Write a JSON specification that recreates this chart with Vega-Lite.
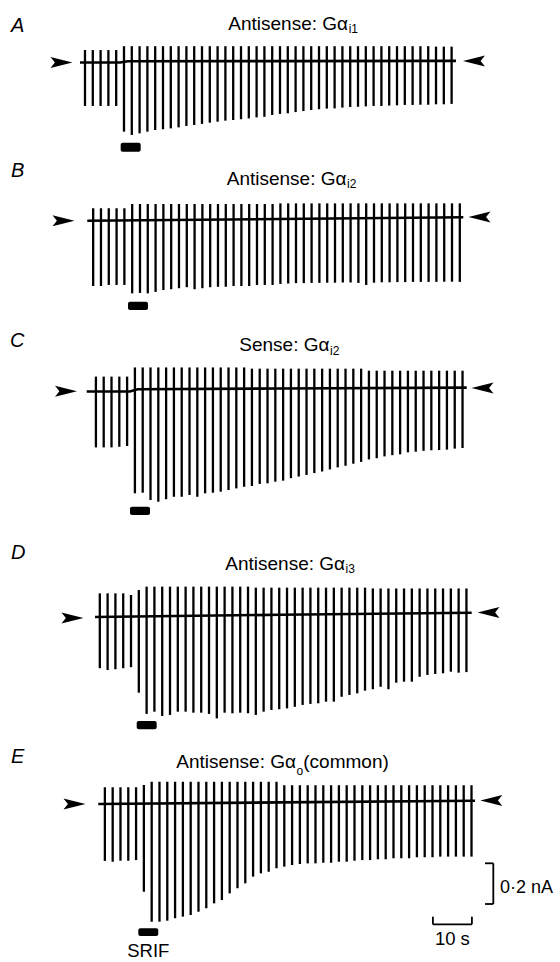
{
"$schema":"https://vega.github.io/schema/vega-lite/v6.json",
"padding":0,"spacing":0,"bounds":"flush","background":"white",
"config":{"view":{"stroke":null}},
"resolve":{"scale":{"x":"shared","y":"independent"}},
"datasets":{
"pulses":[
{"p":"A","t":0,"i":0.061,"i2":-0.213},{"p":"A","t":2,"i":0.061,"i2":-0.213},{"p":"A","t":4,"i":0.061,"i2":-0.213},{"p":"A","t":6,"i":0.061,"i2":-0.213},{"p":"A","t":8,"i":0.061,"i2":-0.213},
{"p":"A","t":10,"i":0.08,"i2":-0.339},{"p":"A","t":12,"i":0.08,"i2":-0.355},{"p":"A","t":14,"i":0.08,"i2":-0.347},{"p":"A","t":16,"i":0.08,"i2":-0.339},{"p":"A","t":18,"i":0.08,"i2":-0.331},
{"p":"A","t":20,"i":0.08,"i2":-0.327},{"p":"A","t":22,"i":0.08,"i2":-0.323},{"p":"A","t":24,"i":0.08,"i2":-0.318},{"p":"A","t":26,"i":0.08,"i2":-0.311},{"p":"A","t":28,"i":0.08,"i2":-0.306},
{"p":"A","t":30,"i":0.08,"i2":-0.301},{"p":"A","t":32,"i":0.08,"i2":-0.295},{"p":"A","t":34,"i":0.08,"i2":-0.29},{"p":"A","t":36,"i":0.08,"i2":-0.285},{"p":"A","t":38,"i":0.08,"i2":-0.282},
{"p":"A","t":40,"i":0.08,"i2":-0.278},{"p":"A","t":42,"i":0.08,"i2":-0.274},{"p":"A","t":44,"i":0.08,"i2":-0.269},{"p":"A","t":46,"i":0.08,"i2":-0.266},{"p":"A","t":48,"i":0.08,"i2":-0.257},
{"p":"A","t":50,"i":0.08,"i2":-0.252},{"p":"A","t":52,"i":0.08,"i2":-0.249},{"p":"A","t":54,"i":0.08,"i2":-0.243},{"p":"A","t":56,"i":0.08,"i2":-0.238},{"p":"A","t":58,"i":0.08,"i2":-0.233},
{"p":"A","t":60,"i":0.08,"i2":-0.229},{"p":"A","t":62,"i":0.08,"i2":-0.226},{"p":"A","t":64,"i":0.08,"i2":-0.225},{"p":"A","t":66,"i":0.08,"i2":-0.221},{"p":"A","t":68,"i":0.08,"i2":-0.218},
{"p":"A","t":70,"i":0.08,"i2":-0.217},{"p":"A","t":72,"i":0.08,"i2":-0.215},{"p":"A","t":74,"i":0.08,"i2":-0.213},{"p":"A","t":76,"i":0.08,"i2":-0.213},{"p":"A","t":78,"i":0.08,"i2":-0.211},
{"p":"A","t":80,"i":0.08,"i2":-0.21},{"p":"A","t":82,"i":0.08,"i2":-0.208},{"p":"A","t":84,"i":0.08,"i2":-0.208},{"p":"A","t":86,"i":0.08,"i2":-0.207},{"p":"A","t":88,"i":0.08,"i2":-0.207},
{"p":"A","t":90,"i":0.078,"i2":-0.205},{"p":"A","t":92,"i":0.078,"i2":-0.205},{"p":"A","t":94,"i":0.078,"i2":-0.203},
{"p":"B","t":2.1,"i":0.061,"i2":-0.32},{"p":"B","t":4.1,"i":0.061,"i2":-0.32},{"p":"B","t":6.1,"i":0.061,"i2":-0.315},{"p":"B","t":8.1,"i":0.061,"i2":-0.315},{"p":"B","t":10.1,"i":0.061,"i2":-0.315},
{"p":"B","t":12.1,"i":0.082,"i2":-0.356},{"p":"B","t":14.1,"i":0.082,"i2":-0.354},{"p":"B","t":16.1,"i":0.082,"i2":-0.356},{"p":"B","t":18.1,"i":0.082,"i2":-0.349},{"p":"B","t":20.1,"i":0.082,"i2":-0.34},
{"p":"B","t":22.1,"i":0.082,"i2":-0.336},{"p":"B","t":24.1,"i":0.082,"i2":-0.331},{"p":"B","t":26.1,"i":0.082,"i2":-0.326},{"p":"B","t":28.1,"i":0.082,"i2":-0.336},{"p":"B","t":30.1,"i":0.082,"i2":-0.331},
{"p":"B","t":32.1,"i":0.082,"i2":-0.326},{"p":"B","t":34.1,"i":0.082,"i2":-0.324},{"p":"B","t":36.1,"i":0.082,"i2":-0.324},{"p":"B","t":38.1,"i":0.082,"i2":-0.32},{"p":"B","t":40.1,"i":0.082,"i2":-0.32},
{"p":"B","t":42.1,"i":0.082,"i2":-0.32},{"p":"B","t":44.1,"i":0.082,"i2":-0.315},{"p":"B","t":46.1,"i":0.082,"i2":-0.315},{"p":"B","t":48.1,"i":0.082,"i2":-0.315},{"p":"B","t":50.1,"i":0.085,"i2":-0.31},
{"p":"B","t":52.1,"i":0.085,"i2":-0.308},{"p":"B","t":54.1,"i":0.085,"i2":-0.306},{"p":"B","t":56.1,"i":0.085,"i2":-0.306},{"p":"B","t":58.1,"i":0.085,"i2":-0.305},{"p":"B","t":60.1,"i":0.085,"i2":-0.305},
{"p":"B","t":62.1,"i":0.085,"i2":-0.304},{"p":"B","t":64.1,"i":0.085,"i2":-0.304},{"p":"B","t":66.1,"i":0.085,"i2":-0.303},{"p":"B","t":68.1,"i":0.085,"i2":-0.303},{"p":"B","t":70.1,"i":0.085,"i2":-0.305},
{"p":"B","t":72.1,"i":0.085,"i2":-0.315},{"p":"B","t":74.1,"i":0.085,"i2":-0.304},{"p":"B","t":76.1,"i":0.085,"i2":-0.302},{"p":"B","t":78.1,"i":0.085,"i2":-0.302},{"p":"B","t":80.1,"i":0.085,"i2":-0.301},
{"p":"B","t":82.1,"i":0.085,"i2":-0.301},{"p":"B","t":84.1,"i":0.085,"i2":-0.3},{"p":"B","t":86.1,"i":0.085,"i2":-0.3},{"p":"B","t":88.1,"i":0.085,"i2":-0.3},{"p":"B","t":90.1,"i":0.085,"i2":-0.3},
{"p":"B","t":92.1,"i":0.085,"i2":-0.299},{"p":"B","t":94.1,"i":0.085,"i2":-0.299},{"p":"B","t":96.1,"i":0.085,"i2":-0.3},
{"p":"C","t":2.8,"i":0.073,"i2":-0.274},{"p":"C","t":4.8,"i":0.073,"i2":-0.274},{"p":"C","t":6.8,"i":0.073,"i2":-0.274},{"p":"C","t":8.8,"i":0.073,"i2":-0.271},{"p":"C","t":10.8,"i":0.073,"i2":-0.267},
{"p":"C","t":12.8,"i":0.118,"i2":-0.499},{"p":"C","t":14.8,"i":0.118,"i2":-0.496},{"p":"C","t":16.8,"i":0.118,"i2":-0.532},{"p":"C","t":18.8,"i":0.118,"i2":-0.54},{"p":"C","t":20.8,"i":0.118,"i2":-0.528},
{"p":"C","t":22.8,"i":0.118,"i2":-0.516},{"p":"C","t":24.8,"i":0.118,"i2":-0.516},{"p":"C","t":26.8,"i":0.118,"i2":-0.507},{"p":"C","t":28.8,"i":0.118,"i2":-0.516},{"p":"C","t":30.8,"i":0.118,"i2":-0.499},
{"p":"C","t":32.8,"i":0.118,"i2":-0.496},{"p":"C","t":34.8,"i":0.118,"i2":-0.491},{"p":"C","t":36.8,"i":0.118,"i2":-0.483},{"p":"C","t":38.8,"i":0.118,"i2":-0.475},{"p":"C","t":40.8,"i":0.118,"i2":-0.467},
{"p":"C","t":42.8,"i":0.112,"i2":-0.463},{"p":"C","t":44.8,"i":0.112,"i2":-0.453},{"p":"C","t":46.8,"i":0.112,"i2":-0.45},{"p":"C","t":48.8,"i":0.112,"i2":-0.442},{"p":"C","t":50.8,"i":0.112,"i2":-0.437},
{"p":"C","t":52.8,"i":0.112,"i2":-0.425},{"p":"C","t":54.8,"i":0.112,"i2":-0.417},{"p":"C","t":56.8,"i":0.112,"i2":-0.409},{"p":"C","t":58.8,"i":0.112,"i2":-0.4},{"p":"C","t":60.8,"i":0.112,"i2":-0.392},
{"p":"C","t":62.8,"i":0.112,"i2":-0.382},{"p":"C","t":64.8,"i":0.112,"i2":-0.372},{"p":"C","t":66.8,"i":0.112,"i2":-0.364},{"p":"C","t":68.8,"i":0.112,"i2":-0.354},{"p":"C","t":70.8,"i":0.112,"i2":-0.345},
{"p":"C","t":72.8,"i":0.102,"i2":-0.333},{"p":"C","t":74.8,"i":0.102,"i2":-0.327},{"p":"C","t":76.8,"i":0.102,"i2":-0.318},{"p":"C","t":78.8,"i":0.102,"i2":-0.312},{"p":"C","t":80.8,"i":0.102,"i2":-0.308},
{"p":"C","t":82.8,"i":0.102,"i2":-0.298},{"p":"C","t":84.8,"i":0.102,"i2":-0.295},{"p":"C","t":86.8,"i":0.102,"i2":-0.291},{"p":"C","t":88.8,"i":0.102,"i2":-0.288},{"p":"C","t":90.8,"i":0.102,"i2":-0.287},
{"p":"C","t":92.8,"i":0.102,"i2":-0.285},{"p":"C","t":94.8,"i":0.102,"i2":-0.28},{"p":"C","t":96.8,"i":0.102,"i2":-0.277},
{"p":"D","t":3.8,"i":0.116,"i2":-0.251},{"p":"D","t":5.8,"i":0.116,"i2":-0.26},{"p":"D","t":7.8,"i":0.116,"i2":-0.256},{"p":"D","t":9.8,"i":0.116,"i2":-0.251},{"p":"D","t":11.8,"i":0.108,"i2":-0.246},
{"p":"D","t":13.8,"i":0.132,"i2":-0.371},{"p":"D","t":15.8,"i":0.149,"i2":-0.475},{"p":"D","t":17.8,"i":0.149,"i2":-0.464},{"p":"D","t":19.8,"i":0.149,"i2":-0.485},{"p":"D","t":21.8,"i":0.149,"i2":-0.48},
{"p":"D","t":23.8,"i":0.149,"i2":-0.464},{"p":"D","t":25.8,"i":0.149,"i2":-0.464},{"p":"D","t":27.8,"i":0.149,"i2":-0.469},{"p":"D","t":29.8,"i":0.149,"i2":-0.469},{"p":"D","t":31.8,"i":0.149,"i2":-0.475},
{"p":"D","t":33.8,"i":0.149,"i2":-0.497},{"p":"D","t":35.8,"i":0.149,"i2":-0.469},{"p":"D","t":37.8,"i":0.149,"i2":-0.472},{"p":"D","t":39.8,"i":0.149,"i2":-0.469},{"p":"D","t":41.8,"i":0.149,"i2":-0.472},
{"p":"D","t":43.8,"i":0.144,"i2":-0.48},{"p":"D","t":45.8,"i":0.144,"i2":-0.464},{"p":"D","t":47.8,"i":0.144,"i2":-0.456},{"p":"D","t":49.8,"i":0.144,"i2":-0.452},{"p":"D","t":51.8,"i":0.144,"i2":-0.448},
{"p":"D","t":53.8,"i":0.144,"i2":-0.44},{"p":"D","t":55.8,"i":0.144,"i2":-0.431},{"p":"D","t":57.8,"i":0.144,"i2":-0.426},{"p":"D","t":59.8,"i":0.144,"i2":-0.423},{"p":"D","t":61.8,"i":0.144,"i2":-0.415},
{"p":"D","t":63.8,"i":0.144,"i2":-0.415},{"p":"D","t":65.8,"i":0.144,"i2":-0.391},{"p":"D","t":67.8,"i":0.144,"i2":-0.382},{"p":"D","t":69.8,"i":0.144,"i2":-0.374},{"p":"D","t":71.8,"i":0.144,"i2":-0.361},
{"p":"D","t":73.8,"i":0.14,"i2":-0.354},{"p":"D","t":75.8,"i":0.14,"i2":-0.342},{"p":"D","t":77.8,"i":0.14,"i2":-0.354},{"p":"D","t":79.8,"i":0.14,"i2":-0.322},{"p":"D","t":81.8,"i":0.14,"i2":-0.317},
{"p":"D","t":83.8,"i":0.14,"i2":-0.317},{"p":"D","t":85.8,"i":0.14,"i2":-0.293},{"p":"D","t":87.8,"i":0.14,"i2":-0.284},{"p":"D","t":89.8,"i":0.14,"i2":-0.279},{"p":"D","t":91.8,"i":0.14,"i2":-0.276},
{"p":"D","t":93.8,"i":0.14,"i2":-0.268},{"p":"D","t":95.8,"i":0.14,"i2":-0.273},{"p":"D","t":97.8,"i":0.14,"i2":-0.27},
{"p":"E","t":5.1,"i":0.082,"i2":-0.279},{"p":"E","t":7.1,"i":0.082,"i2":-0.283},{"p":"E","t":9.1,"i":0.082,"i2":-0.278},{"p":"E","t":11.1,"i":0.082,"i2":-0.278},{"p":"E","t":13.1,"i":0.082,"i2":-0.275},
{"p":"E","t":15.1,"i":0.093,"i2":-0.43},{"p":"E","t":17.1,"i":0.109,"i2":-0.577},{"p":"E","t":19.1,"i":0.109,"i2":-0.577},{"p":"E","t":21.1,"i":0.109,"i2":-0.572},{"p":"E","t":23.1,"i":0.109,"i2":-0.56},
{"p":"E","t":25.1,"i":0.109,"i2":-0.552},{"p":"E","t":27.1,"i":0.109,"i2":-0.544},{"p":"E","t":29.1,"i":0.109,"i2":-0.528},{"p":"E","t":31.1,"i":0.109,"i2":-0.511},{"p":"E","t":33.1,"i":0.109,"i2":-0.487},
{"p":"E","t":35.1,"i":0.109,"i2":-0.471},{"p":"E","t":37.1,"i":0.109,"i2":-0.438},{"p":"E","t":39.1,"i":0.109,"i2":-0.413},{"p":"E","t":41.1,"i":0.109,"i2":-0.389},{"p":"E","t":43.1,"i":0.109,"i2":-0.356},
{"p":"E","t":45.1,"i":0.109,"i2":-0.34},{"p":"E","t":47.1,"i":0.109,"i2":-0.332},{"p":"E","t":49.1,"i":0.109,"i2":-0.315},{"p":"E","t":51.1,"i":0.092,"i2":-0.307},{"p":"E","t":53.1,"i":0.092,"i2":-0.299},
{"p":"E","t":55.1,"i":0.092,"i2":-0.294},{"p":"E","t":57.1,"i":0.092,"i2":-0.291},{"p":"E","t":59.1,"i":0.092,"i2":-0.291},{"p":"E","t":61.1,"i":0.092,"i2":-0.288},{"p":"E","t":63.1,"i":0.092,"i2":-0.288},
{"p":"E","t":65.1,"i":0.092,"i2":-0.283},{"p":"E","t":67.1,"i":0.092,"i2":-0.283},{"p":"E","t":69.1,"i":0.092,"i2":-0.278},{"p":"E","t":71.1,"i":0.092,"i2":-0.275},{"p":"E","t":73.1,"i":0.092,"i2":-0.275},
{"p":"E","t":75.1,"i":0.092,"i2":-0.271},{"p":"E","t":77.1,"i":0.092,"i2":-0.271},{"p":"E","t":79.1,"i":0.092,"i2":-0.266},{"p":"E","t":81.1,"i":0.092,"i2":-0.266},{"p":"E","t":83.1,"i":0.092,"i2":-0.266},
{"p":"E","t":85.1,"i":0.092,"i2":-0.261},{"p":"E","t":87.1,"i":0.092,"i2":-0.261},{"p":"E","t":89.1,"i":0.092,"i2":-0.261},{"p":"E","t":91.1,"i":0.092,"i2":-0.258},{"p":"E","t":93.1,"i":0.092,"i2":-0.258},
{"p":"E","t":95.1,"i":0.092,"i2":-0.258},{"p":"E","t":97.1,"i":0.092,"i2":-0.258},{"p":"E","t":99.1,"i":0.092,"i2":-0.258}
],
"baseline":[
{"p":"A","t":-1.28,"i":0},{"p":"A","t":9,"i":0},{"p":"A","t":11,"i":0.006},{"p":"A","t":50,"i":0.007},{"p":"A","t":95.13,"i":0.008},
{"p":"B","t":0.59,"i":0},{"p":"B","t":50,"i":0.008},{"p":"B","t":97,"i":0.017},
{"p":"C","t":0.44,"i":0},{"p":"C","t":11.5,"i":0},{"p":"C","t":13.5,"i":0.011},{"p":"C","t":50,"i":0.015},{"p":"C","t":97.87,"i":0.019},
{"p":"D","t":2.56,"i":0},{"p":"D","t":50,"i":0.011},{"p":"D","t":99.15,"i":0.021},
{"p":"E","t":3.41,"i":0},{"p":"E","t":50,"i":0.008},{"p":"E","t":100,"i":0.016}
],
"arrows":[
{"p":"A","t":-6.03,"i":0,"dir":"right"},{"p":"A","t":99.74,"i":0.007,"dir":"left"},
{"p":"B","t":-5.51,"i":0,"dir":"right"},{"p":"B","t":101.15,"i":0.018,"dir":"left"},
{"p":"C","t":-4.87,"i":0.001,"dir":"right"},{"p":"C","t":101.92,"i":0.017,"dir":"left"},
{"p":"D","t":-3.21,"i":-0.005,"dir":"right"},{"p":"D","t":103.46,"i":0.022,"dir":"left"},
{"p":"E","t":-2.69,"i":0,"dir":"right"},{"p":"E","t":104.18,"i":0.017,"dir":"left"}
],
"bars":[
{"p":"A","t":9.15,"t2":14.28,"i":-0.393,"i2":-0.437},
{"p":"B","t":11.03,"t2":16.15,"i":-0.397,"i2":-0.438},
{"p":"C","t":11.54,"t2":16.67,"i":-0.565,"i2":-0.605},
{"p":"D","t":13.26,"t2":18.38,"i":-0.51,"i2":-0.55},
{"p":"E","t":13.67,"t2":18.79,"i":-0.609,"i2":-0.647}
],
"scalebars":[
{"t":104.69,"t2":104.69,"i":-0.2907,"i2":-0.4902},
{"t":102.56,"t2":104.69,"i":-0.2907,"i2":-0.2907},
{"t":102.56,"t2":104.69,"i":-0.4902,"i2":-0.4902},
{"t":89.2,"t2":99.2,"i":-0.59,"i2":-0.59},
{"t":89.2,"t2":89.2,"i":-0.5524,"i2":-0.59},
{"t":99.2,"t2":99.2,"i":-0.5524,"i2":-0.59}
],
"labels":[
{"p":"A","kind":"letter","t":-18.97,"i":0.1495,"text":"A"},
{"p":"A","kind":"title","t":67.44,"i":0.1593,"text":"Antisense: Gα"},
{"p":"A","kind":"sub","t":67.6,"i":0.143,"text":"i1"},
{"p":"B","kind":"letter","t":-18.97,"i":0.2142,"text":"B"},
{"p":"B","kind":"title","t":67.05,"i":0.175,"text":"Antisense: Gα"},
{"p":"B","kind":"sub","t":67.2,"i":0.158,"text":"i2"},
{"p":"C","kind":"letter","t":-19.23,"i":0.2196,"text":"C"},
{"p":"C","kind":"title","t":62.69,"i":0.2,"text":"Sense: Gα"},
{"p":"C","kind":"sub","t":62.82,"i":0.179,"text":"i2"},
{"p":"D","kind":"letter","t":-18.97,"i":0.283,"text":"D"},
{"p":"D","kind":"title","t":66.67,"i":0.23,"text":"Antisense: Gα"},
{"p":"D","kind":"sub","t":66.79,"i":0.214,"text":"i3"},
{"p":"E","kind":"letter","t":-18.97,"i":0.2025,"text":"E"},
{"p":"E","kind":"title","t":54.1,"i":0.175,"text":"Antisense: Gα"},
{"p":"E","kind":"sub","t":54.23,"i":0.142,"text":"o"},
{"p":"E","kind":"titleL","t":55.97,"i":0.175,"text":"(common)"},
{"p":"E","kind":"center","t":16.23,"i":-0.752,"text":"SRIF"},
{"p":"E","kind":"center","t":94.2,"i":-0.6912,"text":"10 s"},
{"p":"E","kind":"note","t":106.41,"i":-0.4377,"text":"0·2 nA"}
]
},
"vconcat":[
{"width":560,"height":158,
"encoding":{"x":{"field":"t","type":"quantitative","scale":{"domain":[-21.79,121.79],"nice":false,"zero":false},"axis":null},
"y":{"field":"i","type":"quantitative","scale":{"domain":[-0.4681,0.3064],"nice":false,"zero":false},"axis":null}},
"layer":[
{"data":{"name":"pulses"},"transform":[{"filter":"datum.p==='A'"}],"mark":{"type":"rule","strokeWidth":2.3,"color":"#000"},"encoding":{"y2":{"field":"i2"}}},
{"data":{"name":"baseline"},"transform":[{"filter":"datum.p==='A'"}],"mark":{"type":"line","strokeWidth":2.6,"color":"#000"},"encoding":{}},
{"data":{"name":"arrows"},"transform":[{"filter":"datum.p==='A'"}],"mark":{"type":"point","filled":true,"size":484,"color":"#000","opacity":1,"strokeWidth":0},"encoding":{"shape":{"field":"dir","type":"nominal","scale":{"domain":["right","left"],"range":["M1,0L-1,-0.5L-0.6,0L-1,0.5Z","M-1,0L1,-0.5L0.6,0L1,0.5Z"]},"legend":null}}},
{"data":{"name":"bars"},"transform":[{"filter":"datum.p==='A'"}],"mark":{"type":"rect","color":"#000","cornerRadius":2},"encoding":{"x2":{"field":"t2"},"y2":{"field":"i2"}}},
{"data":{"name":"labels"},"transform":[{"filter":"datum.p==='A' && datum.kind==='letter'"}],"mark":{"type":"text","align":"left","baseline":"alphabetic","font":"Liberation Sans","fontSize":20,"fontStyle":"italic","color":"#000"},"encoding":{"text":{"field":"text"}}},
{"data":{"name":"labels"},"transform":[{"filter":"datum.p==='A' && datum.kind==='title'"}],"mark":{"type":"text","align":"right","baseline":"alphabetic","font":"Liberation Sans","fontSize":19,"color":"#000"},"encoding":{"text":{"field":"text"}}},
{"data":{"name":"labels"},"transform":[{"filter":"datum.p==='A' && datum.kind==='sub'"}],"mark":{"type":"text","align":"left","baseline":"alphabetic","font":"Liberation Sans","fontSize":12,"color":"#000"},"encoding":{"text":{"field":"text"}}}
]},
{"width":560,"height":164,
"encoding":{"x":{"field":"t","type":"quantitative","scale":{"domain":[-21.79,121.79],"nice":false,"zero":false},"axis":null},
"y":{"field":"i","type":"quantitative","scale":{"domain":[-0.4966,0.3074],"nice":false,"zero":false},"axis":null}},
"layer":[
{"data":{"name":"pulses"},"transform":[{"filter":"datum.p==='B'"}],"mark":{"type":"rule","strokeWidth":2.3,"color":"#000"},"encoding":{"y2":{"field":"i2"}}},
{"data":{"name":"baseline"},"transform":[{"filter":"datum.p==='B'"}],"mark":{"type":"line","strokeWidth":2.6,"color":"#000"},"encoding":{}},
{"data":{"name":"arrows"},"transform":[{"filter":"datum.p==='B'"}],"mark":{"type":"point","filled":true,"size":484,"color":"#000","opacity":1,"strokeWidth":0},"encoding":{"shape":{"field":"dir","type":"nominal","scale":{"domain":["right","left"],"range":["M1,0L-1,-0.5L-0.6,0L-1,0.5Z","M-1,0L1,-0.5L0.6,0L1,0.5Z"]},"legend":null}}},
{"data":{"name":"bars"},"transform":[{"filter":"datum.p==='B'"}],"mark":{"type":"rect","color":"#000","cornerRadius":2},"encoding":{"x2":{"field":"t2"},"y2":{"field":"i2"}}},
{"data":{"name":"labels"},"transform":[{"filter":"datum.p==='B' && datum.kind==='letter'"}],"mark":{"type":"text","align":"left","baseline":"alphabetic","font":"Liberation Sans","fontSize":20,"fontStyle":"italic","color":"#000"},"encoding":{"text":{"field":"text"}}},
{"data":{"name":"labels"},"transform":[{"filter":"datum.p==='B' && datum.kind==='title'"}],"mark":{"type":"text","align":"right","baseline":"alphabetic","font":"Liberation Sans","fontSize":19,"color":"#000"},"encoding":{"text":{"field":"text"}}},
{"data":{"name":"labels"},"transform":[{"filter":"datum.p==='B' && datum.kind==='sub'"}],"mark":{"type":"text","align":"left","baseline":"alphabetic","font":"Liberation Sans","fontSize":12,"color":"#000"},"encoding":{"text":{"field":"text"}}}
]},
{"width":560,"height":208,
"encoding":{"x":{"field":"t","type":"quantitative","scale":{"domain":[-21.79,121.79],"nice":false,"zero":false},"axis":null},
"y":{"field":"i","type":"quantitative","scale":{"domain":[-0.6789,0.3407],"nice":false,"zero":false},"axis":null}},
"layer":[
{"data":{"name":"pulses"},"transform":[{"filter":"datum.p==='C'"}],"mark":{"type":"rule","strokeWidth":2.3,"color":"#000"},"encoding":{"y2":{"field":"i2"}}},
{"data":{"name":"baseline"},"transform":[{"filter":"datum.p==='C'"}],"mark":{"type":"line","strokeWidth":2.6,"color":"#000"},"encoding":{}},
{"data":{"name":"arrows"},"transform":[{"filter":"datum.p==='C'"}],"mark":{"type":"point","filled":true,"size":484,"color":"#000","opacity":1,"strokeWidth":0},"encoding":{"shape":{"field":"dir","type":"nominal","scale":{"domain":["right","left"],"range":["M1,0L-1,-0.5L-0.6,0L-1,0.5Z","M-1,0L1,-0.5L0.6,0L1,0.5Z"]},"legend":null}}},
{"data":{"name":"bars"},"transform":[{"filter":"datum.p==='C'"}],"mark":{"type":"rect","color":"#000","cornerRadius":2},"encoding":{"x2":{"field":"t2"},"y2":{"field":"i2"}}},
{"data":{"name":"labels"},"transform":[{"filter":"datum.p==='C' && datum.kind==='letter'"}],"mark":{"type":"text","align":"left","baseline":"alphabetic","font":"Liberation Sans","fontSize":20,"fontStyle":"italic","color":"#000"},"encoding":{"text":{"field":"text"}}},
{"data":{"name":"labels"},"transform":[{"filter":"datum.p==='C' && datum.kind==='title'"}],"mark":{"type":"text","align":"right","baseline":"alphabetic","font":"Liberation Sans","fontSize":19,"color":"#000"},"encoding":{"text":{"field":"text"}}},
{"data":{"name":"labels"},"transform":[{"filter":"datum.p==='C' && datum.kind==='sub'"}],"mark":{"type":"text","align":"left","baseline":"alphabetic","font":"Liberation Sans","fontSize":12,"color":"#000"},"encoding":{"text":{"field":"text"}}}
]},
{"width":560,"height":208,
"encoding":{"x":{"field":"t","type":"quantitative","scale":{"domain":[-21.79,121.79],"nice":false,"zero":false},"axis":null},
"y":{"field":"i","type":"quantitative","scale":{"domain":[-0.5931,0.4265],"nice":false,"zero":false},"axis":null}},
"layer":[
{"data":{"name":"pulses"},"transform":[{"filter":"datum.p==='D'"}],"mark":{"type":"rule","strokeWidth":2.3,"color":"#000"},"encoding":{"y2":{"field":"i2"}}},
{"data":{"name":"baseline"},"transform":[{"filter":"datum.p==='D'"}],"mark":{"type":"line","strokeWidth":2.6,"color":"#000"},"encoding":{}},
{"data":{"name":"arrows"},"transform":[{"filter":"datum.p==='D'"}],"mark":{"type":"point","filled":true,"size":484,"color":"#000","opacity":1,"strokeWidth":0},"encoding":{"shape":{"field":"dir","type":"nominal","scale":{"domain":["right","left"],"range":["M1,0L-1,-0.5L-0.6,0L-1,0.5Z","M-1,0L1,-0.5L0.6,0L1,0.5Z"]},"legend":null}}},
{"data":{"name":"bars"},"transform":[{"filter":"datum.p==='D'"}],"mark":{"type":"rect","color":"#000","cornerRadius":2},"encoding":{"x2":{"field":"t2"},"y2":{"field":"i2"}}},
{"data":{"name":"labels"},"transform":[{"filter":"datum.p==='D' && datum.kind==='letter'"}],"mark":{"type":"text","align":"left","baseline":"alphabetic","font":"Liberation Sans","fontSize":20,"fontStyle":"italic","color":"#000"},"encoding":{"text":{"field":"text"}}},
{"data":{"name":"labels"},"transform":[{"filter":"datum.p==='D' && datum.kind==='title'"}],"mark":{"type":"text","align":"right","baseline":"alphabetic","font":"Liberation Sans","fontSize":19,"color":"#000"},"encoding":{"text":{"field":"text"}}},
{"data":{"name":"labels"},"transform":[{"filter":"datum.p==='D' && datum.kind==='sub'"}],"mark":{"type":"text","align":"left","baseline":"alphabetic","font":"Liberation Sans","fontSize":12,"color":"#000"},"encoding":{"text":{"field":"text"}}}
]},
{"width":560,"height":224,
"encoding":{"x":{"field":"t","type":"quantitative","scale":{"domain":[-21.79,121.79],"nice":false,"zero":false},"axis":null},
"y":{"field":"i","type":"quantitative","scale":{"domain":[-0.7745,0.3235],"nice":false,"zero":false},"axis":null}},
"layer":[
{"data":{"name":"pulses"},"transform":[{"filter":"datum.p==='E'"}],"mark":{"type":"rule","strokeWidth":2.3,"color":"#000"},"encoding":{"y2":{"field":"i2"}}},
{"data":{"name":"baseline"},"transform":[{"filter":"datum.p==='E'"}],"mark":{"type":"line","strokeWidth":2.6,"color":"#000"},"encoding":{}},
{"data":{"name":"arrows"},"transform":[{"filter":"datum.p==='E'"}],"mark":{"type":"point","filled":true,"size":484,"color":"#000","opacity":1,"strokeWidth":0},"encoding":{"shape":{"field":"dir","type":"nominal","scale":{"domain":["right","left"],"range":["M1,0L-1,-0.5L-0.6,0L-1,0.5Z","M-1,0L1,-0.5L0.6,0L1,0.5Z"]},"legend":null}}},
{"data":{"name":"bars"},"transform":[{"filter":"datum.p==='E'"}],"mark":{"type":"rect","color":"#000","cornerRadius":2},"encoding":{"x2":{"field":"t2"},"y2":{"field":"i2"}}},
{"data":{"name":"scalebars"},"mark":{"type":"rule","strokeWidth":1.8,"color":"#000"},"encoding":{"x2":{"field":"t2"},"y2":{"field":"i2"}}},
{"data":{"name":"labels"},"transform":[{"filter":"datum.p==='E' && datum.kind==='letter'"}],"mark":{"type":"text","align":"left","baseline":"alphabetic","font":"Liberation Sans","fontSize":20,"fontStyle":"italic","color":"#000"},"encoding":{"text":{"field":"text"}}},
{"data":{"name":"labels"},"transform":[{"filter":"datum.p==='E' && datum.kind==='title'"}],"mark":{"type":"text","align":"right","baseline":"alphabetic","font":"Liberation Sans","fontSize":19,"color":"#000"},"encoding":{"text":{"field":"text"}}},
{"data":{"name":"labels"},"transform":[{"filter":"datum.p==='E' && datum.kind==='sub'"}],"mark":{"type":"text","align":"left","baseline":"alphabetic","font":"Liberation Sans","fontSize":12,"color":"#000"},"encoding":{"text":{"field":"text"}}},
{"data":{"name":"labels"},"transform":[{"filter":"datum.p==='E' && datum.kind==='titleL'"}],"mark":{"type":"text","align":"left","baseline":"alphabetic","font":"Liberation Sans","fontSize":19,"color":"#000"},"encoding":{"text":{"field":"text"}}},
{"data":{"name":"labels"},"transform":[{"filter":"datum.p==='E' && datum.kind==='center'"}],"mark":{"type":"text","align":"center","baseline":"alphabetic","font":"Liberation Sans","fontSize":18.5,"color":"#000"},"encoding":{"text":{"field":"text"}}},
{"data":{"name":"labels"},"transform":[{"filter":"datum.p==='E' && datum.kind==='note'"}],"mark":{"type":"text","align":"left","baseline":"alphabetic","font":"Liberation Sans","fontSize":18,"color":"#000"},"encoding":{"text":{"field":"text"}}}
]}
]
}
